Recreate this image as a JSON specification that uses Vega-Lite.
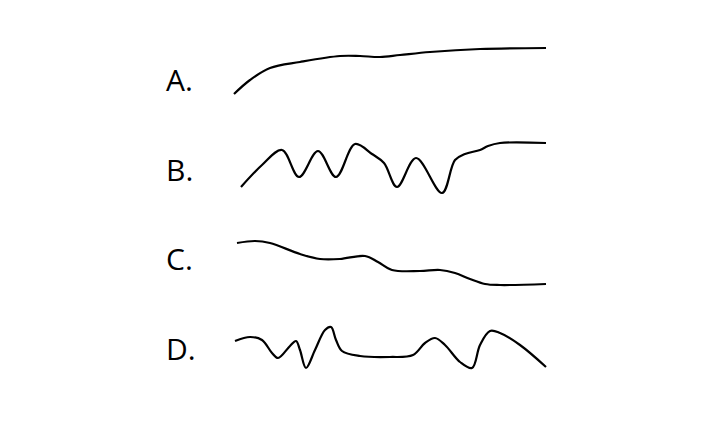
{
  "$schema": "https://vega.github.io/schema/vega-lite/v6.json",
  "width": 720,
  "height": 432,
  "autosize": {"type": "fit", "contains": "padding"},
  "padding": 0,
  "background": "white",
  "config": {"view": {"stroke": null}},
  "datasets": {
    "curves": [
      {"s": "A", "x": 234, "y": 94}, {"s": "A", "x": 250, "y": 80}, {"s": "A", "x": 270, "y": 68}, {"s": "A", "x": 300, "y": 62}, {"s": "A", "x": 340, "y": 56}, {"s": "A", "x": 360, "y": 56}, {"s": "A", "x": 380, "y": 57}, {"s": "A", "x": 400, "y": 55}, {"s": "A", "x": 430, "y": 52}, {"s": "A", "x": 480, "y": 49}, {"s": "A", "x": 546, "y": 48},
      {"s": "B", "x": 241, "y": 187}, {"s": "B", "x": 262, "y": 165}, {"s": "B", "x": 282, "y": 150}, {"s": "B", "x": 299, "y": 177}, {"s": "B", "x": 318, "y": 151}, {"s": "B", "x": 336, "y": 177}, {"s": "B", "x": 355, "y": 144}, {"s": "B", "x": 372, "y": 154}, {"s": "B", "x": 384, "y": 163}, {"s": "B", "x": 397, "y": 187}, {"s": "B", "x": 416, "y": 158}, {"s": "B", "x": 442, "y": 193}, {"s": "B", "x": 455, "y": 160}, {"s": "B", "x": 465, "y": 154}, {"s": "B", "x": 480, "y": 150}, {"s": "B", "x": 488, "y": 146}, {"s": "B", "x": 500, "y": 143}, {"s": "B", "x": 546, "y": 143},
      {"s": "C", "x": 237, "y": 243}, {"s": "C", "x": 255, "y": 241}, {"s": "C", "x": 270, "y": 243}, {"s": "C", "x": 300, "y": 254}, {"s": "C", "x": 320, "y": 259}, {"s": "C", "x": 340, "y": 259}, {"s": "C", "x": 365, "y": 256}, {"s": "C", "x": 378, "y": 262}, {"s": "C", "x": 392, "y": 270}, {"s": "C", "x": 420, "y": 271}, {"s": "C", "x": 440, "y": 270}, {"s": "C", "x": 455, "y": 273}, {"s": "C", "x": 470, "y": 279}, {"s": "C", "x": 485, "y": 284}, {"s": "C", "x": 500, "y": 285}, {"s": "C", "x": 546, "y": 284},
      {"s": "D", "x": 235, "y": 341}, {"s": "D", "x": 250, "y": 337}, {"s": "D", "x": 262, "y": 340}, {"s": "D", "x": 272, "y": 353}, {"s": "D", "x": 278, "y": 358}, {"s": "D", "x": 290, "y": 346}, {"s": "D", "x": 296, "y": 341}, {"s": "D", "x": 300, "y": 350}, {"s": "D", "x": 306, "y": 368}, {"s": "D", "x": 315, "y": 350}, {"s": "D", "x": 325, "y": 330}, {"s": "D", "x": 331, "y": 327}, {"s": "D", "x": 336, "y": 340}, {"s": "D", "x": 342, "y": 351}, {"s": "D", "x": 360, "y": 356}, {"s": "D", "x": 390, "y": 357}, {"s": "D", "x": 413, "y": 355}, {"s": "D", "x": 425, "y": 343}, {"s": "D", "x": 435, "y": 338}, {"s": "D", "x": 445, "y": 345}, {"s": "D", "x": 460, "y": 362}, {"s": "D", "x": 472, "y": 368}, {"s": "D", "x": 480, "y": 345}, {"s": "D", "x": 490, "y": 331}, {"s": "D", "x": 500, "y": 333}, {"s": "D", "x": 520, "y": 345}, {"s": "D", "x": 546, "y": 367}
    ],
    "labels": [
      {"label": "A.", "x": 166, "y": 91},
      {"label": "B.", "x": 166, "y": 181},
      {"label": "C.", "x": 166, "y": 270},
      {"label": "D.", "x": 166, "y": 360}
    ]
  },
  "layer": [
    {
      "data": {"name": "curves"},
      "mark": {"type": "line", "interpolate": "catmull-rom", "color": "black", "strokeWidth": 2.2},
      "encoding": {
        "x": {"field": "x", "type": "quantitative", "scale": {"domain": [0, 720], "nice": false, "zero": false}, "axis": null},
        "y": {"field": "y", "type": "quantitative", "scale": {"domain": [0, 432], "nice": false, "zero": false, "reverse": true}, "axis": null},
        "detail": {"field": "s"},
        "order": {"field": "x", "type": "quantitative"}
      }
    },
    {
      "data": {"name": "labels"},
      "mark": {"type": "text", "align": "left", "baseline": "alphabetic", "font": "Open Sans", "fontSize": 30, "color": "black"},
      "encoding": {
        "x": {"field": "x", "type": "quantitative", "scale": {"domain": [0, 720], "nice": false, "zero": false}, "axis": null},
        "y": {"field": "y", "type": "quantitative", "scale": {"domain": [0, 432], "nice": false, "zero": false, "reverse": true}, "axis": null},
        "text": {"field": "label"}
      }
    }
  ]
}
